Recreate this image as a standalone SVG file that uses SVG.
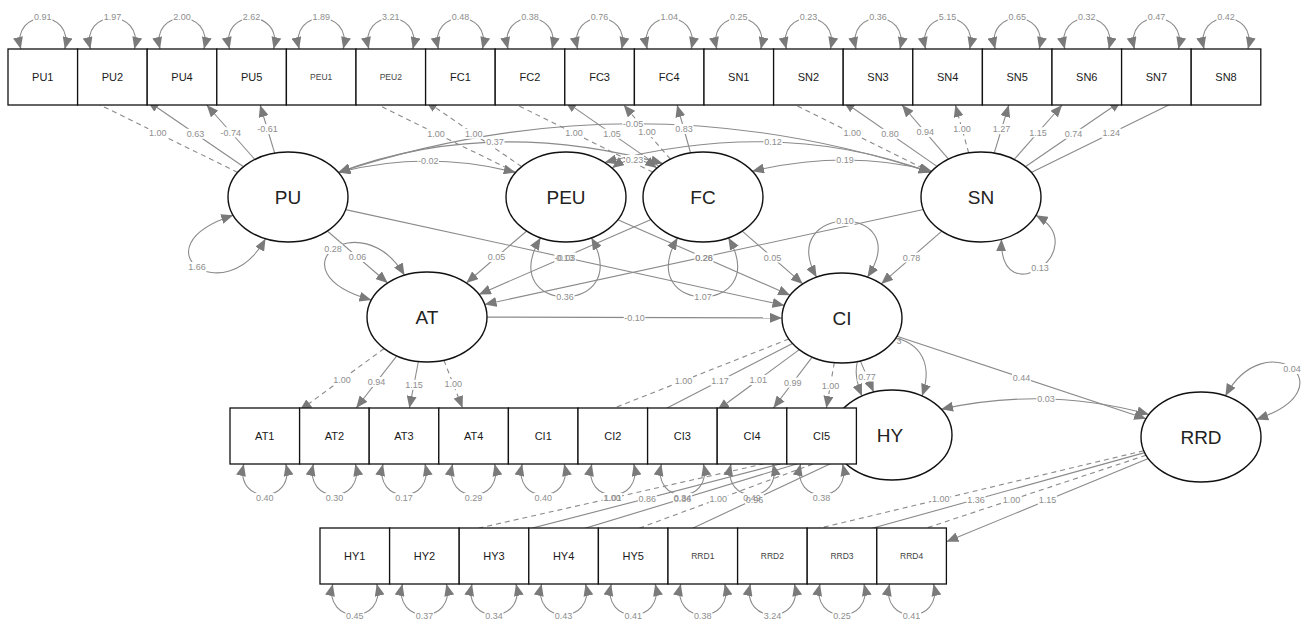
<svg xmlns="http://www.w3.org/2000/svg" width="1309" height="624" viewBox="0 0 1309 624">
<defs>
<marker id="ah" markerUnits="userSpaceOnUse" markerWidth="12" markerHeight="10" refX="12" refY="5" orient="auto-start-reverse" viewBox="0 0 12 10"><path d="M0,0L12,5L0,10z" fill="#7a7a7a"/></marker>
<style>
.e{fill:none;stroke:#8a8a8a;stroke-width:1.1;marker-end:url(#ah)}
.d{stroke-dasharray:5 4}
.b{marker-start:url(#ah)}
.bg{fill:#fff}
.el{font-family:"Liberation Sans",Arial,sans-serif;font-size:9px;fill:#8e8e8e;text-anchor:middle}
.box{fill:#fff;stroke:#111;stroke-width:1.3}
.lat{fill:#fff;stroke:#111;stroke-width:1.4}
.mt{font-family:"Liberation Sans",Arial,sans-serif;font-size:11px;fill:#1a1a1a;text-anchor:middle}
.ms{font-family:"Liberation Sans",Arial,sans-serif;font-size:8.5px;fill:#444;text-anchor:middle}
.lt{font-family:"Liberation Sans",Arial,sans-serif;font-size:19px;fill:#222;text-anchor:middle}
</style>
</defs>
<g id="connectors">
<path class="e d" d="M237.8,172.4L77.6,94"/>
<path class="e" d="M243.6,166.7L147.2,100.8"/>
<path class="e" d="M254.9,159.5L206.7,105"/>
<path class="e" d="M274.7,153.1L260.1,105"/>
<path class="e d" d="M515.8,172.4L356,94.1"/>
<path class="e d" d="M521.7,166.7L425.6,100.8"/>
<path class="e d" d="M652.9,172.2L495.2,94.2"/>
<path class="e" d="M659,166.4L564.8,101.1"/>
<path class="e d" d="M670.4,159.2L623.7,105"/>
<path class="e" d="M690.6,153L677.1,105"/>
<path class="e d" d="M930.9,172.2L773.6,94.2"/>
<path class="e" d="M937,166.4L843.2,101.2"/>
<path class="e" d="M948.5,159.2L902,105"/>
<path class="e d" d="M968.7,153L955.4,105"/>
<path class="e" d="M994.2,153.1L1008.8,105"/>
<path class="e" d="M1014.1,159.5L1062.1,105"/>
<path class="e" d="M1025.3,166.7L1121.6,100.8"/>
<path class="e" d="M1031.2,172.4L1191.2,94"/>
<path class="e d" d="M384.1,348.5L299.6,410.5"/>
<path class="e" d="M396.8,355.9L356.2,408"/>
<path class="e" d="M418.4,361.5L409.4,408"/>
<path class="e d" d="M443.9,360.2L462.6,408"/>
<path class="e d" d="M788.9,339L578,422.3"/>
<path class="e" d="M792.5,343.5L647.6,418.1"/>
<path class="e" d="M799.3,349.6L717.2,410.3"/>
<path class="e" d="M812.2,357.1L773.4,408"/>
<path class="e d" d="M834.3,362.6L826.4,408"/>
<path class="e d" d="M834.5,447.9L389.6,548.2"/>
<path class="e" d="M835.3,449.7L459.2,547"/>
<path class="e" d="M836.4,451.9L528.8,545.4"/>
<path class="e d" d="M838.1,454.8L598.4,543.2"/>
<path class="e" d="M841.1,458.8L668,539.7"/>
<path class="e d" d="M1143.8,450.7L737.6,547.7"/>
<path class="e" d="M1144.7,452.6L807.2,546.3"/>
<path class="e d" d="M1146.1,455.2L876.8,544.5"/>
<path class="e" d="M1148.4,458.6L946.4,541.7"/>
<path class="e" d="M327.3,231L387.7,283"/>
<path class="e" d="M526.7,231L466.3,283"/>
<path class="e" d="M651.1,219.6L478.9,294.4"/>
<path class="e" d="M923.4,209.5L484.6,304.5"/>
<path class="e" d="M345.6,209.6L784.4,305.4"/>
<path class="e" d="M617.8,219.7L790.2,295.3"/>
<path class="e" d="M742.2,231.1L802.8,283.9"/>
<path class="e" d="M941.8,231.1L881.2,283.9"/>
<path class="e" d="M487,317.1L782,317.9"/>
<path class="e" d="M860.3,360.9L873.7,392.1"/>
<path class="e" d="M896.9,336.2L1146.1,418.8"/>
<path class="e b" d="M338.3,172.5Q427,149.5 515.7,172.5"/>
<path class="e b" d="M338.3,172.5Q489.5,116 662.9,163.6"/>
<path class="e b" d="M338.3,172.5Q634.5,75 930.7,172.5"/>
<path class="e b" d="M612,168.1Q634.5,152 657,168.1"/>
<path class="e b" d="M604.6,162.5Q778.4,116.5 930.7,172.5"/>
<path class="e b" d="M752.1,171.2Q848,148.8 931.9,171.2"/>
<path class="e b" d="M941.1,409.2Q1047,386 1149,414.5"/>
<path class="e b" d="M233.2,215.3C134.3,247.5 224.7,313.1 265.5,238.7"/>
<path class="e b" d="M404.5,275.3C361,201.4 268.4,270.8 371.4,300.1"/>
<path class="e b" d="M540.6,237.8C493.6,316.7 635.8,316.7 591.4,237.8"/>
<path class="e b" d="M677.6,237.8C631.9,316.7 774.1,316.7 728.4,237.8"/>
<path class="e b" d="M1035.8,215.3C1095.1,248 999.1,315.2 1001.5,239.3"/>
<path class="e b" d="M816.6,277.2C774.9,202.3 917.1,202.3 867.4,277.2"/>
<path class="e b" d="M862,396C829.3,318.7 949.3,318.7 922,396"/>
<path class="e b" d="M1225.4,395.9C1266,321.9 1352.2,387.7 1256.2,419.4"/>
<path class="e b" d="M20.8,49C10.8,8 74.8,8 64.8,49"/>
<path class="e b" d="M90.4,49C80.4,8 144.4,8 134.4,49"/>
<path class="e b" d="M160,49C150,8 214,8 204,49"/>
<path class="e b" d="M229.6,49C219.6,8 283.6,8 273.6,49"/>
<path class="e b" d="M299.2,49C289.2,8 353.2,8 343.2,49"/>
<path class="e b" d="M368.8,49C358.8,8 422.8,8 412.8,49"/>
<path class="e b" d="M438.4,49C428.4,8 492.4,8 482.4,49"/>
<path class="e b" d="M508,49C498,8 562,8 552,49"/>
<path class="e b" d="M577.6,49C567.6,8 631.6,8 621.6,49"/>
<path class="e b" d="M647.2,49C637.2,8 701.2,8 691.2,49"/>
<path class="e b" d="M716.8,49C706.8,8 770.8,8 760.8,49"/>
<path class="e b" d="M786.4,49C776.4,8 840.4,8 830.4,49"/>
<path class="e b" d="M856,49C846,8 910,8 900,49"/>
<path class="e b" d="M925.6,49C915.6,8 979.6,8 969.6,49"/>
<path class="e b" d="M995.2,49C985.2,8 1049.2,8 1039.2,49"/>
<path class="e b" d="M1064.8,49C1054.8,8 1118.8,8 1108.8,49"/>
<path class="e b" d="M1134.4,49C1124.4,8 1188.4,8 1178.4,49"/>
<path class="e b" d="M1204,49C1194,8 1258,8 1248,49"/>
<path class="e b" d="M243.8,464C233.8,505 295.8,505 285.8,464"/>
<path class="e b" d="M313.4,464C303.4,505 365.4,505 355.4,464"/>
<path class="e b" d="M383,464C373,505 435,505 425,464"/>
<path class="e b" d="M452.6,464C442.6,505 504.6,505 494.6,464"/>
<path class="e b" d="M522.2,464C512.2,505 574.2,505 564.2,464"/>
<path class="e b" d="M591.8,464C581.8,505 643.8,505 633.8,464"/>
<path class="e b" d="M661.4,464C651.4,505 713.4,505 703.4,464"/>
<path class="e b" d="M731,464C721,505 783,505 773,464"/>
<path class="e b" d="M800.6,464C790.6,505 852.6,505 842.6,464"/>
<path class="e b" d="M332.8,584C322.8,625 386.8,625 376.8,584"/>
<path class="e b" d="M402.4,584C392.4,625 456.4,625 446.4,584"/>
<path class="e b" d="M472,584C462,625 526,625 516,584"/>
<path class="e b" d="M541.6,584C531.6,625 595.6,625 585.6,584"/>
<path class="e b" d="M611.2,584C601.2,625 665.2,625 655.2,584"/>
<path class="e b" d="M680.8,584C670.8,625 734.8,625 724.8,584"/>
<path class="e b" d="M750.4,584C740.4,625 804.4,625 794.4,584"/>
<path class="e b" d="M820,584C810,625 874,625 864,584"/>
<path class="e b" d="M889.6,584C879.6,625 943.6,625 933.6,584"/>
<g class="bg">
<rect x="33.3" y="12" width="19" height="10"/><rect x="102.9" y="12" width="19" height="10"/><rect x="172.5" y="12" width="19" height="10"/><rect x="242.1" y="12" width="19" height="10"/><rect x="311.7" y="12" width="19" height="10"/><rect x="381.3" y="12" width="19" height="10"/><rect x="450.9" y="12" width="19" height="10"/><rect x="520.5" y="12" width="19" height="10"/><rect x="590.1" y="12" width="19" height="10"/><rect x="659.7" y="12" width="19" height="10"/><rect x="729.3" y="12" width="19" height="10"/><rect x="798.9" y="12" width="19" height="10"/><rect x="868.5" y="12" width="19" height="10"/><rect x="938.1" y="12" width="19" height="10"/><rect x="1007.7" y="12" width="19" height="10"/><rect x="1077.3" y="12" width="19" height="10"/><rect x="1146.9" y="12" width="19" height="10"/><rect x="1216.5" y="12" width="19" height="10"/>
<rect x="148.2" y="128.2" width="19" height="10"/><rect x="185.9" y="128.8" width="19" height="10"/><rect x="220.1" y="127.3" width="21.5" height="10"/><rect x="256.7" y="124.1" width="21.5" height="10"/>
<rect x="426.4" y="128.3" width="19" height="10"/><rect x="464.2" y="128.8" width="19" height="10"/><rect x="564.6" y="128.2" width="19" height="10"/><rect x="602.4" y="128.8" width="19" height="10"/><rect x="637.6" y="127.1" width="19" height="10"/><rect x="674.4" y="124" width="19" height="10"/>
<rect x="842.8" y="128.2" width="19" height="10"/><rect x="880.6" y="128.8" width="19" height="10"/><rect x="915.8" y="127.1" width="19" height="10"/><rect x="952.6" y="124" width="19" height="10"/><rect x="992" y="124.1" width="19" height="10"/><rect x="1028.6" y="127.3" width="19" height="10"/><rect x="1064" y="128.8" width="19" height="10"/><rect x="1101.7" y="128.2" width="19" height="10"/>
<rect x="417.5" y="156" width="21.5" height="10"/><rect x="485.5" y="137" width="19" height="10"/><rect x="622.3" y="118.7" width="21.5" height="10"/><rect x="625" y="155" width="19" height="10"/><rect x="763.5" y="137" width="19" height="10"/><rect x="835.5" y="155" width="19" height="10"/>
<rect x="187.5" y="262" width="19" height="10"/><rect x="323.5" y="244" width="19" height="10"/><rect x="555.5" y="292" width="19" height="10"/><rect x="693.5" y="292" width="19" height="10"/><rect x="1030.5" y="263" width="19" height="10"/><rect x="835.5" y="216" width="19" height="10"/><rect x="1282.5" y="364" width="19" height="10"/>
<rect x="348" y="252" width="19" height="10"/><rect x="487" y="252" width="19" height="10"/><rect x="554.3" y="252.3" width="21.5" height="10"/><rect x="694.5" y="252.3" width="19" height="10"/><rect x="763" y="252.5" width="19" height="10"/><rect x="902" y="252.5" width="19" height="10"/><rect x="623.8" y="312.5" width="21.5" height="10"/><rect x="857.5" y="371.5" width="19" height="10"/><rect x="1012" y="372.5" width="19" height="10"/><rect x="1036.5" y="394" width="19" height="10"/>
<rect x="332.4" y="374.5" width="19" height="10"/><rect x="367" y="377" width="19" height="10"/><rect x="404.4" y="379.8" width="19" height="10"/><rect x="443.8" y="379.1" width="19" height="10"/>
<rect x="674" y="375.7" width="19" height="10"/><rect x="710.6" y="375.8" width="19" height="10"/><rect x="748.8" y="375" width="19" height="10"/><rect x="783.3" y="377.6" width="19" height="10"/><rect x="820.9" y="380.3" width="19" height="10"/>
<rect x="255.3" y="493" width="19" height="10"/><rect x="324.9" y="493" width="19" height="10"/><rect x="394.5" y="493" width="19" height="10"/><rect x="464.1" y="493" width="19" height="10"/><rect x="533.7" y="493" width="19" height="10"/><rect x="603.3" y="493" width="19" height="10"/><rect x="672.9" y="493" width="19" height="10"/><rect x="742.5" y="493" width="19" height="10"/><rect x="812.1" y="493" width="19" height="10"/>
<rect x="602.6" y="493.1" width="19" height="10"/><rect x="637.8" y="493.4" width="19" height="10"/><rect x="673.1" y="493.7" width="19" height="10"/><rect x="708.8" y="494" width="19" height="10"/><rect x="745.1" y="494.3" width="19" height="10"/>
<rect x="931.2" y="494.2" width="19" height="10"/><rect x="966.5" y="494.5" width="19" height="10"/><rect x="1002" y="494.9" width="19" height="10"/><rect x="1037.9" y="495.2" width="19" height="10"/>
<rect x="345.3" y="611" width="19" height="10"/><rect x="414.9" y="611" width="19" height="10"/><rect x="484.5" y="611" width="19" height="10"/><rect x="554.1" y="611" width="19" height="10"/><rect x="623.7" y="611" width="19" height="10"/><rect x="693.3" y="611" width="19" height="10"/><rect x="762.9" y="611" width="19" height="10"/><rect x="832.5" y="611" width="19" height="10"/><rect x="902.1" y="611" width="19" height="10"/>
</g>
<g class="el">
<text x="42.8" y="20.2">0.91</text><text x="112.4" y="20.2">1.97</text><text x="182" y="20.2">2.00</text><text x="251.6" y="20.2">2.62</text><text x="321.2" y="20.2">1.89</text><text x="390.8" y="20.2">3.21</text><text x="460.4" y="20.2">0.48</text><text x="530" y="20.2">0.38</text><text x="599.6" y="20.2">0.76</text><text x="669.2" y="20.2">1.04</text><text x="738.8" y="20.2">0.25</text><text x="808.4" y="20.2">0.23</text><text x="878" y="20.2">0.36</text><text x="947.6" y="20.2">5.15</text><text x="1017.2" y="20.2">0.65</text><text x="1086.8" y="20.2">0.32</text><text x="1156.4" y="20.2">0.47</text><text x="1226" y="20.2">0.42</text>
<text x="157.7" y="136.4">1.00</text><text x="195.4" y="137">0.63</text><text x="230.8" y="135.5">-0.74</text><text x="267.4" y="132.3">-0.61</text>
<text x="435.9" y="136.5">1.00</text><text x="473.7" y="137">1.00</text><text x="574.1" y="136.4">1.00</text><text x="611.9" y="137">1.05</text><text x="647.1" y="135.3">1.00</text><text x="683.9" y="132.2">0.83</text>
<text x="852.3" y="136.4">1.00</text><text x="890.1" y="137">0.80</text><text x="925.3" y="135.3">0.94</text><text x="962.1" y="132.2">1.00</text><text x="1001.5" y="132.3">1.27</text><text x="1038.1" y="135.5">1.15</text><text x="1073.5" y="137">0.74</text><text x="1111.2" y="136.4">1.24</text>
<text x="428.2" y="164.2">-0.02</text><text x="495" y="145.2">0.37</text><text x="633" y="126.9">-0.05</text><text x="634.5" y="163.2">0.23</text><text x="773" y="145.2">0.12</text><text x="845" y="163.2">0.19</text>
<text x="197" y="270.2">1.66</text><text x="333" y="252.2">0.28</text><text x="565" y="300.2">0.36</text><text x="703" y="300.2">1.07</text><text x="1040" y="271.2">0.13</text><text x="845" y="224.2">0.10</text><text x="1292" y="372.2">0.04</text>
<text x="357.5" y="260.2">0.06</text><text x="496.5" y="260.2">0.05</text><text x="565" y="260.5">-0.03</text><text x="565" y="260.5">0.13</text><text x="704" y="260.5">0.28</text><text x="704" y="260.5">0.26</text><text x="772.5" y="260.7">0.05</text><text x="911.5" y="260.7">0.78</text><text x="634.5" y="320.7">-0.10</text><text x="867" y="379.7">0.77</text><text x="1021.5" y="380.7">0.44</text><text x="1046" y="402.2">0.03</text>
<text x="341.9" y="382.7">1.00</text><text x="376.5" y="385.2">0.94</text><text x="413.9" y="388">1.15</text><text x="453.3" y="387.3">1.00</text>
<text x="683.5" y="383.9">1.00</text><text x="720.1" y="384">1.17</text><text x="758.3" y="383.2">1.01</text><text x="792.8" y="385.8">0.99</text><text x="830.4" y="388.5">1.00</text>
<text x="264.8" y="501.2">0.40</text><text x="334.4" y="501.2">0.30</text><text x="404" y="501.2">0.17</text><text x="473.6" y="501.2">0.29</text><text x="543.2" y="501.2">0.40</text><text x="612.8" y="501.2">1.01</text><text x="682.4" y="501.2">0.34</text><text x="752" y="501.2">0.49</text><text x="821.6" y="501.2">0.38</text>
<text x="612.1" y="501.3">1.00</text><text x="647.3" y="501.6">0.86</text><text x="682.6" y="501.9">0.86</text><text x="718.3" y="502.2">1.00</text><text x="754.6" y="502.5">0.96</text>
<text x="940.7" y="502.4">1.00</text><text x="976" y="502.7">1.36</text><text x="1011.5" y="503.1">1.00</text><text x="1047.4" y="503.4">1.15</text>
<text x="354.8" y="619.2">0.45</text><text x="424.4" y="619.2">0.37</text><text x="494" y="619.2">0.34</text><text x="563.6" y="619.2">0.43</text><text x="633.2" y="619.2">0.41</text><text x="702.8" y="619.2">0.38</text><text x="772.4" y="619.2">3.24</text><text x="842" y="619.2">0.25</text><text x="911.6" y="619.2">0.41</text>
<text x="899" y="344">3</text>
</g>
</g>
<g id="PU"><ellipse class="lat" cx="288" cy="197" rx="60" ry="45"/><text class="lt" x="288" y="204">PU</text></g>
<g id="PEU"><ellipse class="lat" cx="566" cy="197" rx="60" ry="45"/><text class="lt" x="566" y="204">PEU</text></g>
<g id="FC"><ellipse class="lat" cx="703" cy="197" rx="60" ry="45"/><text class="lt" x="703" y="204">FC</text></g>
<g id="SN"><ellipse class="lat" cx="981" cy="197" rx="60" ry="45"/><text class="lt" x="981" y="204">SN</text></g>
<g id="AT"><ellipse class="lat" cx="427" cy="317" rx="60" ry="45"/><text class="lt" x="427" y="324">AT</text></g>
<g id="CI"><ellipse class="lat" cx="842" cy="318" rx="60" ry="45"/><text class="lt" x="842" y="325">CI</text></g>
<g id="HY"><ellipse class="lat" cx="892" cy="435" rx="60" ry="45"/><text class="lt" x="890" y="442">HY</text></g>
<g id="RRD"><ellipse class="lat" cx="1201" cy="437" rx="60" ry="45"/><text class="lt" x="1201" y="444">RRD</text></g>
<g id="PU1"><rect class="box" x="8" y="49" width="69.6" height="56"/><text class="mt" x="42.8" y="81">PU1</text></g>
<g id="PU2"><rect class="box" x="77.6" y="49" width="69.6" height="56"/><text class="mt" x="112.4" y="81">PU2</text></g>
<g id="PU4"><rect class="box" x="147.2" y="49" width="69.6" height="56"/><text class="mt" x="182" y="81">PU4</text></g>
<g id="PU5"><rect class="box" x="216.8" y="49" width="69.6" height="56"/><text class="mt" x="251.6" y="81">PU5</text></g>
<g id="PEU1"><rect class="box" x="286.4" y="49" width="69.6" height="56"/><text class="ms" x="321.2" y="80">PEU1</text></g>
<g id="PEU2"><rect class="box" x="356" y="49" width="69.6" height="56"/><text class="ms" x="390.8" y="80">PEU2</text></g>
<g id="FC1"><rect class="box" x="425.6" y="49" width="69.6" height="56"/><text class="mt" x="460.4" y="81">FC1</text></g>
<g id="FC2"><rect class="box" x="495.2" y="49" width="69.6" height="56"/><text class="mt" x="530" y="81">FC2</text></g>
<g id="FC3"><rect class="box" x="564.8" y="49" width="69.6" height="56"/><text class="mt" x="599.6" y="81">FC3</text></g>
<g id="FC4"><rect class="box" x="634.4" y="49" width="69.6" height="56"/><text class="mt" x="669.2" y="81">FC4</text></g>
<g id="SN1"><rect class="box" x="704" y="49" width="69.6" height="56"/><text class="mt" x="738.8" y="81">SN1</text></g>
<g id="SN2"><rect class="box" x="773.6" y="49" width="69.6" height="56"/><text class="mt" x="808.4" y="81">SN2</text></g>
<g id="SN3"><rect class="box" x="843.2" y="49" width="69.6" height="56"/><text class="mt" x="878" y="81">SN3</text></g>
<g id="SN4"><rect class="box" x="912.8" y="49" width="69.6" height="56"/><text class="mt" x="947.6" y="81">SN4</text></g>
<g id="SN5"><rect class="box" x="982.4" y="49" width="69.6" height="56"/><text class="mt" x="1017.2" y="81">SN5</text></g>
<g id="SN6"><rect class="box" x="1052" y="49" width="69.6" height="56"/><text class="mt" x="1086.8" y="81">SN6</text></g>
<g id="SN7"><rect class="box" x="1121.6" y="49" width="69.6" height="56"/><text class="mt" x="1156.4" y="81">SN7</text></g>
<g id="SN8"><rect class="box" x="1191.2" y="49" width="69.6" height="56"/><text class="mt" x="1226" y="81">SN8</text></g>
<g id="AT1"><rect class="box" x="230" y="408" width="69.6" height="56"/><text class="mt" x="264.8" y="440">AT1</text></g>
<g id="AT2"><rect class="box" x="299.6" y="408" width="69.6" height="56"/><text class="mt" x="334.4" y="440">AT2</text></g>
<g id="AT3"><rect class="box" x="369.2" y="408" width="69.6" height="56"/><text class="mt" x="404" y="440">AT3</text></g>
<g id="AT4"><rect class="box" x="438.8" y="408" width="69.6" height="56"/><text class="mt" x="473.6" y="440">AT4</text></g>
<g id="CI1"><rect class="box" x="508.4" y="408" width="69.6" height="56"/><text class="mt" x="543.2" y="440">CI1</text></g>
<g id="CI2"><rect class="box" x="578" y="408" width="69.6" height="56"/><text class="mt" x="612.8" y="440">CI2</text></g>
<g id="CI3"><rect class="box" x="647.6" y="408" width="69.6" height="56"/><text class="mt" x="682.4" y="440">CI3</text></g>
<g id="CI4"><rect class="box" x="717.2" y="408" width="69.6" height="56"/><text class="mt" x="752" y="440">CI4</text></g>
<g id="CI5"><rect class="box" x="786.8" y="408" width="69.6" height="56"/><text class="mt" x="821.6" y="440">CI5</text></g>
<g id="HY1"><rect class="box" x="320" y="528" width="69.6" height="56"/><text class="mt" x="354.8" y="560">HY1</text></g>
<g id="HY2"><rect class="box" x="389.6" y="528" width="69.6" height="56"/><text class="mt" x="424.4" y="560">HY2</text></g>
<g id="HY3"><rect class="box" x="459.2" y="528" width="69.6" height="56"/><text class="mt" x="494" y="560">HY3</text></g>
<g id="HY4"><rect class="box" x="528.8" y="528" width="69.6" height="56"/><text class="mt" x="563.6" y="560">HY4</text></g>
<g id="HY5"><rect class="box" x="598.4" y="528" width="69.6" height="56"/><text class="mt" x="633.2" y="560">HY5</text></g>
<g id="RRD1"><rect class="box" x="668" y="528" width="69.6" height="56"/><text class="ms" x="702.8" y="559">RRD1</text></g>
<g id="RRD2"><rect class="box" x="737.6" y="528" width="69.6" height="56"/><text class="ms" x="772.4" y="559">RRD2</text></g>
<g id="RRD3"><rect class="box" x="807.2" y="528" width="69.6" height="56"/><text class="ms" x="842" y="559">RRD3</text></g>
<g id="RRD4"><rect class="box" x="876.8" y="528" width="69.6" height="56"/><text class="ms" x="911.6" y="559">RRD4</text></g>
</svg>
